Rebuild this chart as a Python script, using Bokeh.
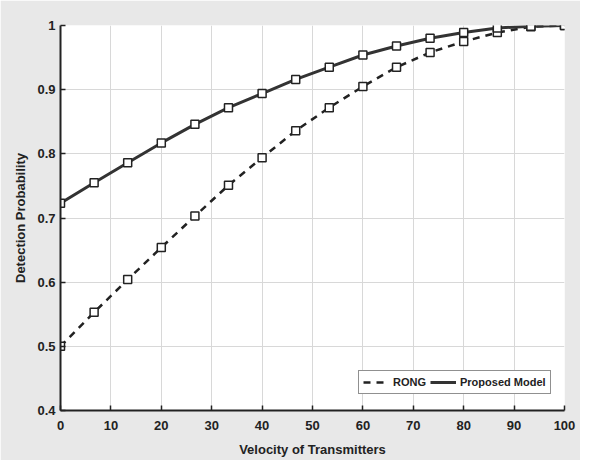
from bokeh.plotting import figure
from bokeh.models import FixedTicker, Legend, LegendItem
from bokeh.embed import file_html
from bokeh.resources import INLINE

velocity = [0, 6.67, 13.33, 20, 26.67, 33.33, 40, 46.67, 53.33, 60, 66.67, 73.33, 80, 86.67, 93.33, 100]
rong = [0.500, 0.553, 0.604, 0.654, 0.703, 0.751, 0.794, 0.836, 0.872, 0.905, 0.935, 0.958, 0.975, 0.989, 0.998, 1.000]
proposed = [0.723, 0.755, 0.786, 0.817, 0.846, 0.872, 0.894, 0.916, 0.935, 0.954, 0.968, 0.980, 0.989, 0.996, 0.999, 1.000]

x_ticks = [0, 10, 20, 30, 40, 50, 60, 70, 80, 90, 100]
y_ticks = [0.4, 0.5, 0.6, 0.7, 0.8, 0.9, 1.0]
y_tick_labels = ["0.4", "0.5", "0.6", "0.7", "0.8", "0.9", "1"]

p = figure(width=580, height=460, output_backend="svg", toolbar_location=None,
           x_range=(0, 100), y_range=(0.4, 1.0),
           min_border_left=60, min_border_right=16, min_border_top=25, min_border_bottom=50)
p.border_fill_color = "#e8e8e8"
p.background_fill_color = "white"
p.outline_line_color = None

for ax in (p.xaxis[0], p.yaxis[0]):
    ax.axis_line_color = "#222222"
    ax.axis_line_width = 2
    ax.major_tick_in = 5
    ax.major_tick_out = 0
    ax.major_tick_line_color = "#222222"
    ax.major_tick_line_width = 1.5
    ax.minor_tick_line_color = None
    ax.major_label_text_font = "Liberation Sans"
    ax.major_label_text_font_style = "bold"
    ax.major_label_text_font_size = "13px"
    ax.major_label_text_color = "#222222"
    ax.axis_label_text_font = "Liberation Sans"
    ax.axis_label_text_font_style = "bold"
    ax.axis_label_text_font_size = "13px"
    ax.axis_label_text_color = "#222222"

p.xaxis.ticker = FixedTicker(ticks=x_ticks)
p.yaxis.ticker = FixedTicker(ticks=y_ticks)
p.yaxis.major_label_overrides = {t: l for t, l in zip(y_ticks, y_tick_labels)}
p.xaxis.axis_label = "Velocity of Transmitters"
p.yaxis.axis_label = "Detection Probability"
p.xaxis.major_label_standoff = 10
p.yaxis.major_label_standoff = 5
p.xaxis.axis_label_standoff = 9
p.yaxis.axis_label_standoff = 6

p.grid.grid_line_color = "#d8d8d8"
p.grid.grid_line_width = 1

l_rong = p.line(velocity, rong, line_color="#222222", line_width=2.5, line_dash="7 6")
l_prop = p.line(velocity, proposed, line_color="#333333", line_width=3)
p.scatter(velocity, rong, marker="square", size=8, fill_color="white",
          line_color="#222222", line_width=1.5)
p.scatter(velocity, proposed, marker="square", size=8, fill_color="white",
          line_color="#222222", line_width=1.5)

legend = Legend(items=[LegendItem(label="RONG", renderers=[l_rong]),
                       LegendItem(label="Proposed Model", renderers=[l_prop])],
                orientation="horizontal", location=(298, 16))
legend.border_line_color = "#222222"
legend.border_line_width = 1.5
legend.background_fill_color = "white"
legend.background_fill_alpha = 1
legend.label_text_font = "Liberation Sans"
legend.label_text_font_style = "bold"
legend.label_text_font_size = "11px"
legend.label_text_color = "#222222"
legend.glyph_width = 26
legend.glyph_height = 14
legend.label_standoff = 4
legend.spacing = 4
legend.padding = 4
legend.margin = 0
legend.label_height = 14
p.add_layout(legend, "center")

open("out.html", "w").write(file_html(p, INLINE))
